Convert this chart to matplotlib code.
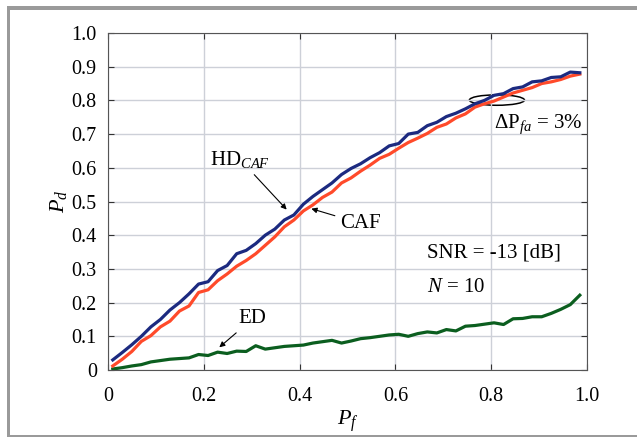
import numpy as np
import matplotlib
matplotlib.use('Agg')
import matplotlib.pyplot as plt
from matplotlib.patches import Ellipse, Rectangle

plt.rcParams['font.family'] = ['Liberation Serif', 'DejaVu Serif']
plt.rcParams['mathtext.fontset'] = 'custom'
plt.rcParams['mathtext.rm'] = 'Liberation Serif'
plt.rcParams['mathtext.it'] = 'Liberation Serif:italic'

# 虚警概率 Pf
pf = np.linspace(0.01, 0.985, 50)

# 检测概率 Pd
pd_hd_caf = [0.030, 0.052, 0.075, 0.100, 0.128, 0.150, 0.178, 0.200, 0.226, 0.255,
             0.262, 0.295, 0.310, 0.345, 0.355, 0.375, 0.400, 0.418, 0.445, 0.460,
             0.492, 0.515, 0.535, 0.555, 0.580, 0.598, 0.612, 0.630, 0.645, 0.665,
             0.672, 0.700, 0.705, 0.725, 0.735, 0.752, 0.762, 0.775, 0.790, 0.800,
             0.815, 0.820, 0.835, 0.840, 0.855, 0.858, 0.868, 0.870, 0.884, 0.882]
pd_caf = [0.012, 0.032, 0.055, 0.085, 0.102, 0.128, 0.145, 0.175, 0.190, 0.230,
          0.238, 0.265, 0.285, 0.308, 0.325, 0.345, 0.370, 0.395, 0.425, 0.445,
          0.472, 0.490, 0.512, 0.528, 0.555, 0.570, 0.590, 0.608, 0.628, 0.640,
          0.658, 0.675, 0.688, 0.702, 0.720, 0.730, 0.748, 0.760, 0.780, 0.790,
          0.798, 0.810, 0.822, 0.830, 0.838, 0.850, 0.855, 0.862, 0.872, 0.878]
pd_ed = [0.003, 0.007, 0.012, 0.016, 0.024, 0.028, 0.032, 0.034, 0.036, 0.046,
         0.043, 0.053, 0.049, 0.056, 0.055, 0.072, 0.062, 0.066, 0.070, 0.072,
         0.074, 0.080, 0.084, 0.088, 0.080, 0.086, 0.093, 0.096, 0.100, 0.104,
         0.106, 0.100, 0.108, 0.113, 0.110, 0.120, 0.116, 0.130, 0.132, 0.136,
         0.140, 0.135, 0.152, 0.153, 0.158, 0.158, 0.168, 0.180, 0.194, 0.222]

ticks = [0, 0.2, 0.4, 0.6, 0.8, 1.0]
tick_labels = ['0', '0.2', '0.4', '0.6', '0.8', '1.0']
yticks = [0, 0.1, 0.2, 0.3, 0.4, 0.5, 0.6, 0.7, 0.8, 0.9, 1.0]
ytick_labels = ['0'] + [f'{v:.1f}' for v in yticks[1:]]

fig = plt.figure(figsize=(6.37, 4.37), dpi=100)
ax = fig.add_axes([0.1695, 0.1533, 0.752, 0.7712])

# 外框
grey = '#9a9a9a'
fig.add_artist(Rectangle((7 / 637, 1 - 10 / 437), 1, 4 / 437, transform=fig.transFigure,
                         facecolor=grey, edgecolor='none'))
fig.add_artist(Rectangle((7 / 637, 0), 3 / 637, 1 - 6 / 437, transform=fig.transFigure,
                         facecolor=grey, edgecolor='none'))
fig.add_artist(Rectangle((7 / 637, 0.5 / 437), 1, 1.5 / 437, transform=fig.transFigure,
                         facecolor=grey, edgecolor='none'))

ax.plot(pf, pd_ed, color='#0b5e1f', lw=2.3)
ax.plot(pf, pd_caf, color='#ff4a2a', lw=2.3)
ax.plot(pf, pd_hd_caf, color='#1c2a80', lw=2.3)

ax.set_xlim(0, 1)
ax.set_ylim(0, 1)
ax.set_xticks(ticks)
ax.set_xticklabels(tick_labels)
ax.set_yticks(yticks)
ax.set_yticklabels(ytick_labels)
ax.tick_params(direction='in', length=4, width=0.8, color='#333333',
               labelsize=14.5, top=True, right=True, pad=8)
ax.tick_params(axis='x', pad=12)
ax.grid(True, color='#cdd0d8', lw=1.0)
for s in ax.spines.values():
    s.set_color('#555555')
    s.set_linewidth(0.8)

ax.set_xlabel('$P_f$', fontsize=16, labelpad=2)
ax.set_ylabel('$P_d$', fontsize=16, labelpad=2)

arrow = dict(arrowstyle='-|>', color='black', lw=0.8, mutation_scale=8)
ax.annotate('HD$_{CAF}$', xy=(0.377, 0.470), xytext=(0.213, 0.625),
            fontsize=15, ha='left', va='center', arrowprops=arrow)
ax.annotate('CAF', xy=(0.419, 0.481), xytext=(0.485, 0.435),
            fontsize=15, ha='left', va='center', arrowprops=arrow)
ax.annotate('ED', xy=(0.228, 0.062), xytext=(0.273, 0.152),
            fontsize=15, ha='left', va='center', arrowprops=arrow)
ax.text(0.667, 0.346, 'SNR = -13 [dB]', fontsize=15, ha='left', va='center')
ax.text(0.665, 0.245, '$N$ = 10', fontsize=15, ha='left', va='center')
ax.text(0.806, 0.73, 'ΔP$_{fa}$ = 3%', fontsize=15, ha='left', va='center')
ax.add_patch(Ellipse((0.812, 0.801), 0.115, 0.031, fill=False, edgecolor='black', lw=1.1))

fig.savefig('out.png', dpi=100)
